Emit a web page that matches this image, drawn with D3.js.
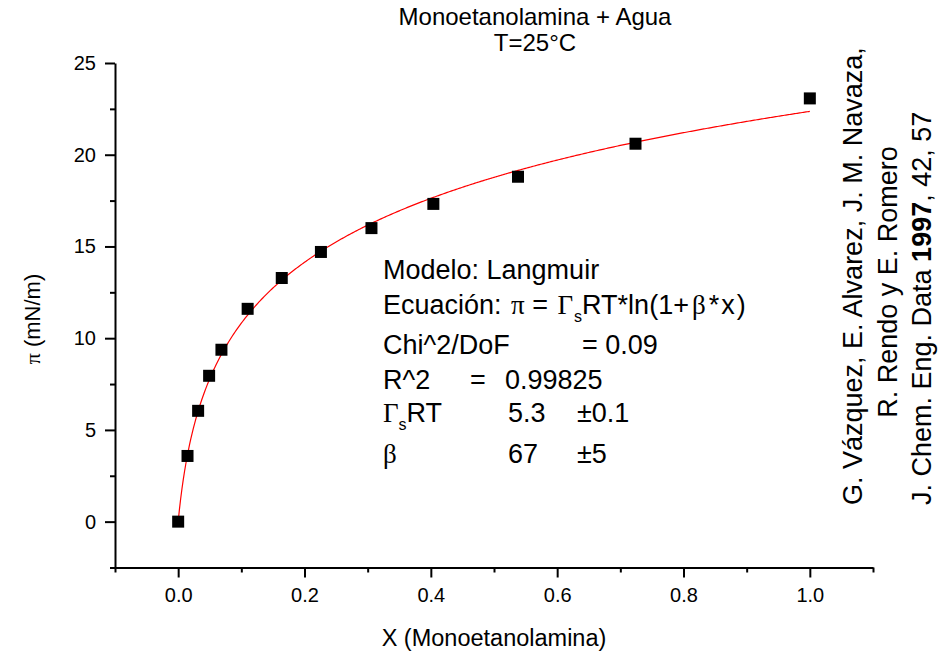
<!DOCTYPE html>
<html>
<head>
<meta charset="utf-8">
<script src="https://cdn.jsdelivr.net/npm/d3@7"></script>
<style>
  body { margin: 0; background: #fff; }
  text { font-family: "Liberation Sans", Arial, sans-serif; fill: #000; }
  .sym { font-family: "Liberation Serif", "Times New Roman", serif; }
</style>
</head>
<body>
<svg id="chart" width="941" height="653"></svg>
<script>
// measured points: mole fraction vs surface pressure
var xValues = [0, 0.0148, 0.0316, 0.049, 0.0685, 0.110, 0.164, 0.226, 0.306, 0.404, 0.538, 0.724, 1.0];
var piValues = [0, 3.58, 6.04, 7.95, 9.37, 11.6, 13.28, 14.7, 16.0, 17.32, 18.8, 20.6, 23.07];

var xTicks = [0, 0.2, 0.4, 0.6, 0.8, 1.0];
var xMinor = [-0.1, 0.1, 0.3, 0.5, 0.7, 0.9, 1.1];
var yTicks = [0, 5, 10, 15, 20, 25];
var yMinor = [-2.5, 2.5, 7.5, 12.5, 17.5, 22.5];

// Langmuir fit, as printed on the chart
var gammaRT = 5.3;
var beta = 67;

var svg = d3.select('#chart');

var x = d3.scaleLinear().domain([-0.1, 1.1]).range([115, 873]);
var y = d3.scaleLinear().domain([-2.5, 25]).range([567.5, 63]);

// minor ticks first (no labels)
svg.append('g')
  .attr('transform', 'translate(0,567.5)')
  .call(d3.axisBottom(x).tickValues(xMinor).tickSize(5).tickSizeOuter(0).tickFormat(''))
  .call(function(g) { g.select('.domain').remove(); });
svg.append('g')
  .attr('transform', 'translate(115,0)')
  .call(d3.axisLeft(y).tickValues(yMinor).tickSize(5).tickSizeOuter(0).tickFormat(''))
  .call(function(g) { g.select('.domain').remove(); });

svg.append('g')
  .attr('transform', 'translate(0,567.5)')
  .call(d3.axisBottom(x).tickValues(xTicks).tickSize(10).tickSizeOuter(0).tickPadding(10).tickFormat(d3.format('.1f')));
svg.append('g')
  .attr('transform', 'translate(115,0)')
  .call(d3.axisLeft(y).tickValues(yTicks).tickSize(10).tickSizeOuter(0).tickPadding(9).tickFormat(d3.format('d')));

svg.selectAll('.tick line, .domain').attr('stroke', '#000').attr('stroke-width', 2);
svg.selectAll('.tick text').attr('font-size', 20).attr('font-family', '"Liberation Sans", Arial, sans-serif');

// fit curve
var fitX = d3.range(0, 1.0001, 0.002);
var line = d3.line()
  .x(function(d) { return x(d); })
  .y(function(d) { return y(gammaRT * Math.log(1 + beta * d)); });
svg.append('path')
  .datum(fitX)
  .attr('d', line)
  .attr('fill', 'none')
  .attr('stroke', '#ff0000')
  .attr('stroke-width', 1.2);

// data squares
var sq = 12;
svg.selectAll('rect.pt')
  .data(xValues)
  .enter().append('rect')
  .attr('class', 'pt')
  .attr('x', function(d) { return x(d) - sq / 2; })
  .attr('y', function(d, i) { return y(piValues[i]) - sq / 2; })
  .attr('width', sq)
  .attr('height', sq)
  .attr('fill', '#000');

// titles
svg.append('text').attr('x', 535).attr('y', 25).attr('text-anchor', 'middle')
  .attr('font-size', 24).text('Monoetanolamina + Agua');
svg.append('text').attr('x', 535).attr('y', 51).attr('text-anchor', 'middle')
  .attr('font-size', 24).text('T=25°C');

svg.append('text').attr('x', 494).attr('y', 646).attr('text-anchor', 'middle')
  .attr('font-size', 23.5).text('X (Monoetanolamina)');

var yl = svg.append('text')
  .attr('transform', 'translate(40,319) rotate(-90)')
  .attr('text-anchor', 'middle')
  .attr('font-size', 22);
yl.append('tspan').attr('class', 'sym').text('π');
yl.append('tspan').text(' (mN/m)');

// fit report
var ann = svg.append('g').attr('font-size', 27);
ann.append('text').attr('x', 383).attr('y', 279).text('Modelo: Langmuir');

var eq = ann.append('text').attr('x', 383).attr('y', 314);
eq.append('tspan').text('Ecuación: ');
eq.append('tspan').attr('class', 'sym').attr('dx', 2).text('π');
eq.append('tspan').text(' = ');
eq.append('tspan').attr('class', 'sym').attr('dx', 2).text('Γ');
eq.append('tspan').attr('font-size', 16).attr('dy', 8).attr('dx', 1).text('s');
eq.append('tspan').attr('dy', -8).text('RT*ln(1+');
eq.append('tspan').attr('class', 'sym').attr('dx', 3).text('β');
eq.append('tspan').attr('dx', 3).attr('letter-spacing', 2).text('*x)');

ann.append('text').attr('x', 383).attr('y', 354).text('Chi^2/DoF');
ann.append('text').attr('x', 582).attr('y', 354).text('= 0.09');
ann.append('text').attr('x', 383).attr('y', 389).text('R^2');
ann.append('text').attr('x', 470).attr('y', 389).text('=');
ann.append('text').attr('x', 505).attr('y', 389).text('0.99825');

var g1 = ann.append('text').attr('x', 383).attr('y', 422);
g1.append('tspan').attr('class', 'sym').text('Γ');
g1.append('tspan').attr('font-size', 16).attr('dy', 8).text('s');
g1.append('tspan').attr('dy', -8).text('RT');
ann.append('text').attr('x', 508).attr('y', 422).text(gammaRT.toFixed(1));
ann.append('text').attr('x', 577).attr('y', 422).text('±0.1');

ann.append('text').attr('x', 383).attr('y', 463).attr('class', 'sym').text('β');
ann.append('text').attr('x', 508).attr('y', 463).text(String(beta));
ann.append('text').attr('x', 577).attr('y', 463).text('±5');

// citation, vertical
var cit = svg.append('g').attr('font-size', 27);
cit.append('text').attr('transform', 'translate(862,505) rotate(-90)')
  .text('G. Vázquez, E. Alvarez, J. M. Navaza,');
cit.append('text').attr('transform', 'translate(897,282) rotate(-90)')
  .attr('text-anchor', 'middle').text('R. Rendo y E. Romero');
var c3 = cit.append('text').attr('transform', 'translate(931,505) rotate(-90)');
c3.append('tspan').text('J. Chem. Eng. Data ');
c3.append('tspan').attr('font-weight', 'bold').text('1997');
c3.append('tspan').text(', 42, 57');
</script>
</body>
</html>
